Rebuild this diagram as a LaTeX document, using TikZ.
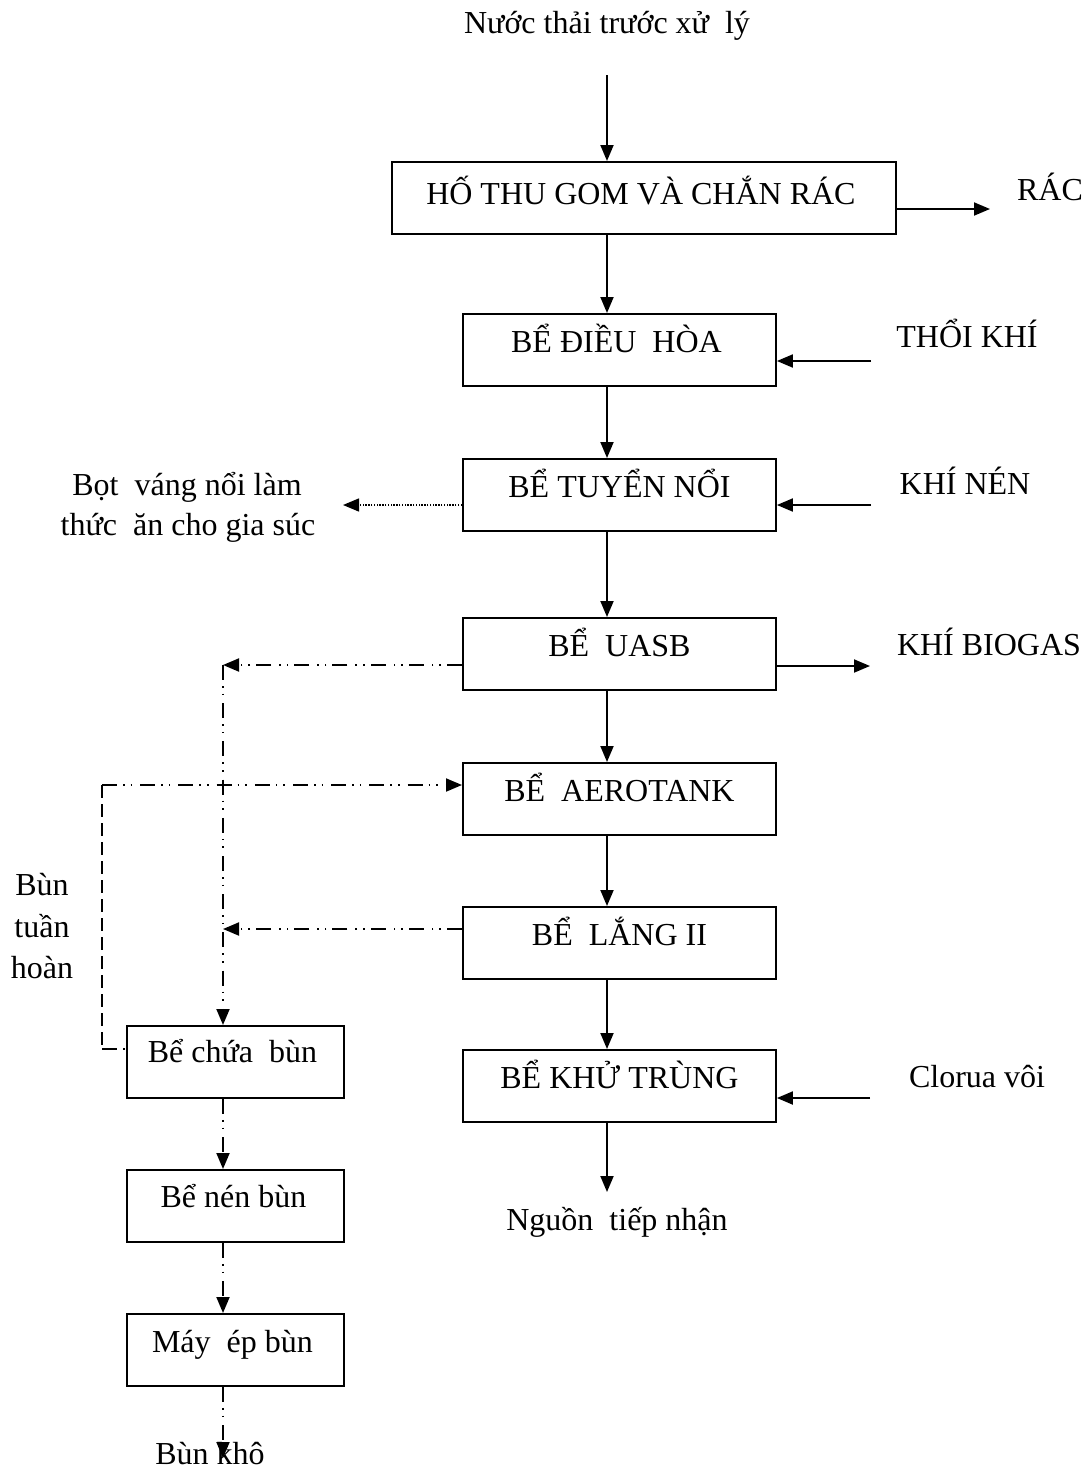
\documentclass[tikz,border=0pt]{standalone}
\usepackage{fontspec}
\setmainfont{Liberation Serif}
\usetikzlibrary{arrows.meta,calc}
\begin{document}
\begin{tikzpicture}[x=1pt,y=-1pt,
  every node/.style={font=\fontsize{32}{40}\selectfont},
  box/.style={draw,line width=1.9pt,inner sep=0pt,anchor=north west,minimum height=72pt},
  mainbox/.style={box,minimum width=313pt},
  sbox/.style={box,minimum width=217pt},
  lbl/.style={anchor=base,inner sep=0pt},
  tip/.style={-{Triangle[length=16pt,width=13pt]}},
  arr/.style={line width=1.9pt,tip},
  ddline/.style={line width=1.9pt,dash pattern=on 15pt off 6pt on 1.6pt off 6pt on 1.6pt off 8pt},
  ddarr/.style={ddline,tip},
  dotarr/.style={line width=1.4pt,dash pattern=on 1.4pt off 1.4pt,tip},
  dashline/.style={line width=1.9pt,dash pattern=on 13pt off 6pt}
]
\useasboundingbox (0,0) rectangle (1089,1473);

% main column boxes
\node[box,minimum width=504pt] (b1) at (391,161) {};
\node[mainbox] (b2) at (462,313) {};
\node[mainbox] (b3) at (462,458) {};
\node[mainbox] (b4) at (462,617) {};
\node[mainbox] (b5) at (462,762) {};
\node[mainbox] (b6) at (462,906) {};
\node[mainbox] (b7) at (462,1049) {};
% sludge boxes
\node[sbox] (s1) at (126,1025) {};
\node[sbox] (s2) at (126,1169) {};
\node[sbox] (s3) at (126,1313) {};

% box texts
\node[lbl] (t1) at ($(b1.north)+(-3,43)$) {HỐ THU GOM VÀ CHẮN RÁC};
\node[lbl] (t2) at ($(b2.north)+(-3,39)$) {BỂ ĐIỀU~ HÒA};
\node[lbl] (t3) at ($(b3.north)+(0,39)$) {BỂ TUYỂN NỔI};
\node[lbl] (t4) at ($(b4.north)+(0,39)$) {BỂ~ UASB};
\node[lbl] (t5) at ($(b5.north)+(0,39)$) {BỂ~ AEROTANK};
\node[lbl] (t6) at ($(b6.north)+(0,39)$) {BỂ~ LẮNG II};
\node[lbl] (t7) at ($(b7.north)+(0,39)$) {BỂ KHỬ TRÙNG};
\node[lbl] (u1t) at ($(s1.north)+(-3,37)$) {Bể chứa~ bùn};
\node[lbl] (u2t) at ($(s2.north)+(-2,38)$) {Bể nén bùn};
\node[lbl] (u3t) at ($(s3.north)+(-3,39)$) {Máy~ ép bùn};

% outside labels
\node[lbl] (title) at (607,33) {Nước thải trước xử~ lý};
\node[lbl] (rac) at (1050,200) {RÁC};
\node[lbl] (tk) at (967,347) {THỔI KHÍ};
\node[lbl] (kn) at (965,494) {KHÍ NÉN};
\node[lbl] (bg) at (989,655) {KHÍ BIOGAS};
\node[lbl] (cl) at (977,1087) {Clorua vôi};
\node[lbl] (ntn) at (617,1230) {Nguồn~ tiếp nhận};
\node[lbl] (bv1) at (187,495) {Bọt~ váng nổi làm};
\node[lbl] (bv2) at (188,535) {thức~ ăn cho gia súc};
\node[lbl] (bth1) at (42,895) {Bùn};
\node[lbl] (bth2) at (42,937) {tuần};
\node[lbl] (bth3) at (42,978) {hoàn};
\node[lbl] (bk) at (210,1464) {Bùn khô};

% helper coordinates
\coordinate (mainx) at (607,0);
\coordinate (in) at (607,75);
\coordinate (out) at (607,1192);
\coordinate (racp) at (990,209);
\coordinate (tkp) at (871,361);
\coordinate (knp) at (871,505);
\coordinate (bgp) at (870,666);
\coordinate (clp) at (870,1098);
\coordinate (bvp) at (343,505);
\coordinate (ua) at (223,665);
\coordinate (la) at (223,929);
\coordinate (r1) at (102,785);
\coordinate (r2) at (102,1049);
\coordinate (bkp) at (223,1458);

% main flow
\draw[arr] (in) -- (in |- b1.north);
\draw[arr] (b1.south -| mainx) -- (b2.north -| mainx);
\draw[arr] (b2.south -| mainx) -- (b3.north -| mainx);
\draw[arr] (b3.south -| mainx) -- (b4.north -| mainx);
\draw[arr] (b4.south -| mainx) -- (b5.north -| mainx);
\draw[arr] (b5.south -| mainx) -- (b6.north -| mainx);
\draw[arr] (b6.south -| mainx) -- (b7.north -| mainx);
\draw[arr] (b7.south -| mainx) -- (out);

% side arrows
\draw[arr] (racp -| b1.east) -- (racp);
\draw[arr] (tkp) -- (tkp -| b2.east);
\draw[arr] (knp) -- (knp -| b3.east);
\draw[arr] (bgp -| b4.east) -- (bgp);
\draw[arr] (clp) -- (clp -| b7.east);
\draw[dotarr] (bvp -| b3.west) -- (bvp);

% sludge lines
\draw[ddarr] (ua -| b4.west) -- (ua);
\draw[ddarr] (ua) -- (ua |- s1.north);
\draw[ddarr] (la -| b6.west) -- (la);
\draw[ddarr] (r1) -- (r1 -| b5.west);
\draw[dashline] (r1) -- (r2);
\draw[ddline] (r2) -- (r2 -| s1.west);
\draw[ddarr] (s1.south -| ua) -- (s2.north -| ua);
\draw[ddarr] (s2.south -| ua) -- (s3.north -| ua);
\draw[ddarr] (s3.south -| ua) -- (bkp);
\end{tikzpicture}
\end{document}
